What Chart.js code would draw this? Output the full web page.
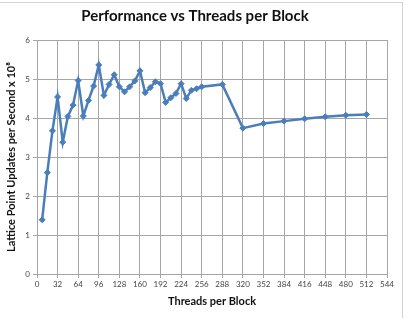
<!DOCTYPE html>
<html>
<head>
<meta charset="utf-8">
<script src="https://cdn.jsdelivr.net/npm/chart.js@4/dist/chart.umd.min.js"></script>
<style>
  html, body { margin: 0; padding: 0; background: #fff; }
  .wrap { width: 407px; height: 318px; }
</style>
</head>
<body>
<div class="wrap"><canvas id="perfChart" width="407" height="318"></canvas></div>
<script>
// threads per block vs lattice point updates per second (x 10^8)
const threads = [8, 16, 24, 32, 40, 48, 56, 64, 72, 80, 88, 96, 104, 112, 120, 128, 136, 144, 152, 160,
                 168, 176, 184, 192, 200, 208, 216, 224, 232, 240, 248, 256, 288, 320, 352, 384, 416, 448, 480, 512];
const updates = [1.39, 2.6, 3.67, 4.54, 3.38, 4.04, 4.33, 4.96, 4.05, 4.45, 4.82, 5.36, 4.58, 4.86, 5.11, 4.8,
                 4.67, 4.8, 4.95, 5.21, 4.65, 4.78, 4.93, 4.88, 4.4, 4.52, 4.63, 4.88, 4.5, 4.71, 4.75, 4.8,
                 4.86, 3.74, 3.86, 3.92, 3.98, 4.03, 4.07, 4.09];
const xTicks = [0, 32, 64, 96, 128, 160, 192, 224, 256, 288, 320, 352, 384, 416, 448, 480, 512, 544];
const yTicks = [0, 1, 2, 3, 4, 5, 6];

const points = threads.map((t, i) => ({ x: t, y: updates[i] }));

// light frame around the whole chart, like the excel chart area
const frame = {
  id: 'frame',
  beforeDraw(chart) {
    const ctx = chart.ctx;
    ctx.save();
    ctx.fillStyle = '#fff';
    ctx.fillRect(0, 0, chart.width, chart.height);
    ctx.strokeStyle = '#d4d4d4';
    ctx.lineWidth = 1;
    ctx.strokeRect(-5, 2.5, 407.5, 330);
    ctx.restore();
  }
};

const fontFam = 'Lato, "Open Sans", sans-serif';

new Chart(document.getElementById('perfChart'), {
  type: 'line',
  data: {
    datasets: [{
      data: points,
      borderColor: '#4a7ebb',
      backgroundColor: '#4a7ebb',
      borderWidth: 2.5,
      pointStyle: 'rectRot',
      pointRadius: 3,
      pointBorderWidth: 1,
      tension: 0
    }]
  },
  options: {
    responsive: false,
    animation: false,
    layout: { padding: { left: 3, right: 20, top: 0, bottom: 0 } },
    plugins: {
      legend: { display: false },
      tooltip: { enabled: false },
      title: {
        display: true,
        text: 'Performance vs Threads per Block',
        color: '#111',
        font: { family: fontFam, size: 15, weight: 'bold' },
        padding: { top: 7, bottom: 15 }
      }
    },
    scales: {
      x: {
        type: 'linear',
        min: 0,
        max: 544,
        afterBuildTicks: s => { s.ticks = xTicks.map(v => ({ value: v })); },
        afterFit: s => { s.height = 44; },
        grid: { color: '#a6a6a6', tickLength: 4, drawTicks: true },
        border: { color: '#a6a6a6' },
        ticks: { color: '#444', font: { family: fontFam, size: 8 }, maxRotation: 0, padding: 2 },
        title: {
          display: true,
          text: 'Threads per Block',
          color: '#111',
          font: { family: fontFam, size: 11, weight: 'bold' },
          padding: { top: 4, bottom: 10 }
        }
      },
      y: {
        min: 0,
        max: 6,
        afterBuildTicks: s => { s.ticks = yTicks.map(v => ({ value: v })); },
        afterFit: s => { s.width = 34; },
        grid: { color: '#a6a6a6', tickLength: 4, drawTicks: true },
        border: { color: '#a6a6a6' },
        ticks: { color: '#444', font: { family: fontFam, size: 8 }, padding: 3 },
        title: {
          display: true,
          text: 'Lattice Point Updates per Second x 10⁸',
          color: '#111',
          font: { family: fontFam, size: 11, weight: 'bold' },
          padding: { top: 2, bottom: 0 }
        }
      }
    }
  },
  plugins: [frame]
});
</script>
</body>
</html>
